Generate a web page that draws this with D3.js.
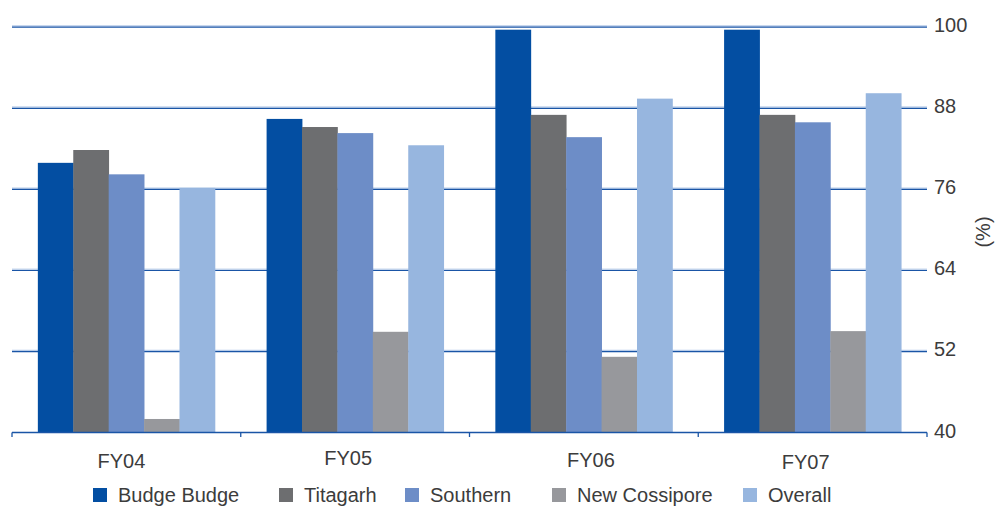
<!DOCTYPE html>
<html>
<head>
<meta charset="utf-8">
<script src="https://cdn.jsdelivr.net/npm/d3@7"></script>
<style>
  html, body { margin: 0; padding: 0; background: #fff; }
  svg { display: block; font-family: "Liberation Sans", Arial, sans-serif; }
</style>
</head>
<body>
<svg id="chart" width="997" height="506"></svg>
<script>
// Plant load factors by year
const years = ["FY04", "FY05", "FY06", "FY07"];
const seriesNames = ["Budge Budge", "Titagarh", "Southern", "New Cossipore", "Overall"];
const budgeBudge   = [79.9, 86.4, 99.6, 99.6];
const titagarh     = [81.8, 85.2, 87.0, 87.0];
const southern     = [78.2, 84.3, 83.7, 85.9];
const newCossipore = [42.0, 54.9, 51.2, 55.0];
const overall      = [76.2, 82.5, 89.4, 90.2];
const yTicks = [40, 52, 64, 76, 88, 100];
const colors = ["#034ea2", "#6d6e70", "#6d8dc7", "#97989c", "#97b6df"];

const seriesValues = [budgeBudge, titagarh, southern, newCossipore, overall];

const svg = d3.select("#chart");
const plotLeft = 12, plotRight = 927, plotTop = 27, plotBottom = 432.5;

const x0 = d3.scaleBand().domain(years).range([plotLeft, plotRight])
  .paddingInner(0.226).paddingOuter(0.113);
const x1 = d3.scaleBand().domain(seriesNames).range([0, x0.bandwidth()]);
const y = d3.scaleLinear().domain([40, 100]).range([plotBottom, plotTop]);
const color = d3.scaleOrdinal().domain(seriesNames).range(colors);

// gridlines (behind the bars)
const grid = svg.append("g");
yTicks.filter(t => t > 40).forEach(t => {
  grid.append("line").attr("x1", plotLeft).attr("x2", plotRight)
    .attr("y1", y(t) - 1.1).attr("y2", y(t) - 1.1)
    .attr("stroke", "#a4bee3").attr("stroke-width", 1);
  grid.append("line").attr("x1", plotLeft).attr("x2", plotRight)
    .attr("y1", y(t) + 0.2).attr("y2", y(t) + 0.2)
    .attr("stroke", "#1a55a6").attr("stroke-width", 1.2);
});

// bars
const groups = svg.append("g").selectAll("g")
  .data(years)
  .join("g")
  .attr("transform", d => `translate(${x0(d)},0)`);

groups.selectAll("rect")
  .data((d, i) => seriesNames.map((s, j) => ({ s, v: seriesValues[j][i] })))
  .join("rect")
  .attr("x", d => x1(d.s))
  .attr("width", x1.bandwidth() + 0.4)
  .attr("y", d => y(d.v))
  .attr("height", d => plotBottom - y(d.v))
  .attr("fill", d => color(d.s));

// bottom axis with boundary ticks
const axisG = svg.append("g");
axisG.append("line").attr("x1", plotLeft).attr("x2", plotRight)
  .attr("y1", plotBottom).attr("y2", plotBottom)
  .attr("stroke", "#1a55a6").attr("stroke-width", 1.5);
const step = x0.step();
d3.range(years.length + 1).forEach(i => {
  const xx = plotLeft + i * step;
  axisG.append("line").attr("x1", xx).attr("x2", xx)
    .attr("y1", plotBottom).attr("y2", plotBottom + 4.5)
    .attr("stroke", "#1a55a6").attr("stroke-width", 1.3);
});

// category labels sit slightly off-centre in their bands
const labelNudge = [-5, -7, 7, -7];
const labelDrop = [468, 465, 467, 469];
axisG.selectAll("text.cat")
  .data(years)
  .join("text")
  .attr("class", "cat")
  .attr("x", (d, i) => x0(d) + x0.bandwidth() / 2 + labelNudge[i])
  .attr("y", (d, i) => labelDrop[i])
  .attr("text-anchor", "middle")
  .attr("font-size", 20)
  .attr("fill", "#3c3c3c")
  .text(d => d);

// right-hand value labels
svg.append("g").selectAll("text")
  .data(yTicks)
  .join("text")
  .attr("x", 934)
  .attr("y", d => y(d) + 5)
  .attr("font-size", 20)
  .attr("fill", "#3c3c3c")
  .text(d => d);

svg.append("text")
  .attr("transform", "translate(990,232) rotate(-90)")
  .attr("text-anchor", "middle")
  .attr("font-size", 20)
  .attr("fill", "#3c3c3c")
  .text("(%)");

// legend
const legendX = [93, 279, 405, 552, 743];
const legend = svg.append("g").selectAll("g")
  .data(seriesNames)
  .join("g")
  .attr("transform", (d, i) => `translate(${legendX[i]},0)`);
legend.append("rect")
  .attr("x", 0).attr("y", 488).attr("width", 14).attr("height", 14)
  .attr("fill", d => color(d));
legend.append("text")
  .attr("x", 25).attr("y", 502)
  .attr("font-size", 20)
  .attr("fill", "#3c3c3c")
  .text(d => d);
</script>
</body>
</html>
